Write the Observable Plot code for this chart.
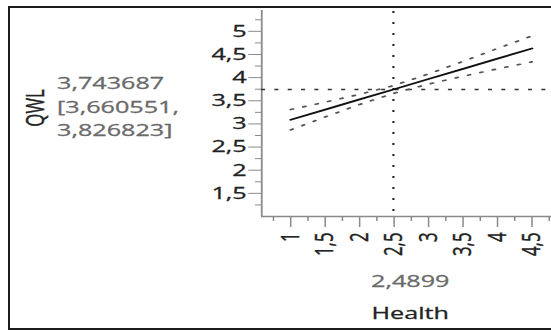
<!DOCTYPE html>
<html>
<head>
<meta charset="utf-8">
<script src="https://cdn.jsdelivr.net/npm/d3@7"></script>
<script src="https://cdn.jsdelivr.net/npm/@observablehq/plot@0.6"></script>
<style>
  html, body { margin: 0; padding: 0; background: #fff; width: 551px; height: 330px; overflow: hidden; }
  #box { position: absolute; left: 8px; top: 6px; width: 700px; height: 324px; box-sizing: border-box; border: 2px solid #1c1c1c; }
  /* the profiler panel is laid out narrow and widened horizontally */
  #panel { position: absolute; left: 0; top: 0; width: 373px; height: 330px; transform: scaleX(1.5); transform-origin: 0 0;
           font-family: "Open Sans", sans-serif; font-size: 16.8px; }
  #panel svg { position: absolute; left: 0; top: 0; }
  #panel svg text { stroke: currentColor; stroke-width: 0.3px; }
  .lbl { position: absolute; white-space: nowrap; line-height: 23.5px; -webkit-text-stroke: 0.3px currentColor; }
  #ylab { left: 23.3px; top: 108px; transform: translate(-50%, -50%) rotate(-90deg); color: #222; }
  #readout { left: 38px; top: 71px; color: #6a6a6a; }
  #xval { left: 273.5px; top: 269px; transform: translateX(-50%); color: #6a6a6a; }
  #xlab { left: 273.5px; top: 301px; transform: translateX(-50%); color: #222; }
</style>
</head>
<body>
<div id="box"></div>
<div id="panel">
  <div id="ylab" class="lbl"></div>
  <div id="readout" class="lbl"></div>
  <div id="xval" class="lbl"></div>
  <div id="xlab" class="lbl"></div>
</div>
<script>
// Prediction profile of QWL against Health
const health   = [1, 1.5, 2, 2.4899, 3, 3.5, 4, 4.5];
const qwlFit   = [3.09, 3.31, 3.53, 3.743687, 3.97, 4.19, 4.41, 4.63];
const qwlLower = [2.87, 3.15, 3.42, 3.660551, 3.86, 4.03, 4.19, 4.34];
const qwlUpper = [3.31, 3.47, 3.64, 3.826823, 4.08, 4.35, 4.63, 4.90];

// current setting of the profiler crosshair
const healthAt = 2.4899;
const qwlAt = 3.743687;
const qwlInterval = [3.660551, 3.826823];

// axis ticks
const majorX = [1, 1.5, 2, 2.5, 3, 3.5, 4, 4.5];
const minorX = [0.75, 1.25, 1.75, 2.25, 2.75, 3.25, 3.75, 4.25, 4.75];
const majorY = [1.5, 2, 2.5, 3, 3.5, 4, 4.5, 5];
const minorY = [1.25, 1.75, 2.25, 2.75, 3.25, 3.75, 4.25, 4.75, 5.25];
const xDomain = [0.58, 4.91];
const yDomain = [1, 5.45];

const xName = "Health";
const yName = "QWL";

const comma = d => String(d).replace(".", ",");
const rows = health.map((h, i) => ({health: h, fit: qwlFit[i], lower: qwlLower[i], upper: qwlUpper[i]}));

const axisGray = "#8a8a8a";

const chart = Plot.plot({
  width: 373,
  height: 330,
  marginLeft: 174,
  marginRight: 0,
  marginTop: 10,
  marginBottom: 114,
  style: {fontFamily: "'Open Sans', sans-serif", fontSize: "16.8px", color: "#222", background: "transparent", overflow: "visible"},
  x: {domain: xDomain, label: null},
  y: {domain: yDomain, label: null},
  marks: [
    Plot.axisY(minorY, {tickSize: 4, tickFormat: () => "", stroke: axisGray, label: null}),
    Plot.axisY(majorY, {tickSize: 8.5, tickPadding: 1.5, tickFormat: comma, stroke: axisGray, label: null}),
    Plot.axisX(minorX, {tickSize: 5, tickFormat: () => "", stroke: axisGray, label: null}),
    Plot.axisX(majorX, {tickSize: 11, tickPadding: 5, tickRotate: -90, tickFormat: comma, stroke: axisGray, label: null}),
    Plot.ruleX([xDomain[0]], {stroke: axisGray, strokeWidth: 1.2}),
    Plot.ruleY([yDomain[0]], {stroke: axisGray, strokeWidth: 1.6}),
    Plot.ruleY([qwlAt], {stroke: "#333", strokeWidth: 1.6, strokeDasharray: "2.7,6.2"}),
    Plot.ruleX([healthAt], {stroke: "#222", strokeWidth: 1.4, strokeDasharray: "2,9", strokeDashoffset: -1}),
    Plot.line(rows, {x: "health", y: "upper", stroke: "#555", strokeWidth: 1.7, strokeDasharray: "1.7,7"}),
    Plot.line(rows, {x: "health", y: "lower", stroke: "#555", strokeWidth: 1.7, strokeDasharray: "1.7,7"}),
    Plot.line(rows, {x: "health", y: "fit", stroke: "#111", strokeWidth: 1.8})
  ]
});

const panel = document.getElementById("panel");
panel.insertBefore(chart, panel.firstChild);

document.getElementById("ylab").textContent = yName;
document.getElementById("readout").innerHTML =
  comma(qwlAt) + "<br>[" + comma(qwlInterval[0]) + ",<br>" + comma(qwlInterval[1]) + "]";
document.getElementById("xval").textContent = comma(healthAt);
document.getElementById("xlab").textContent = xName;
</script>
</body>
</html>
